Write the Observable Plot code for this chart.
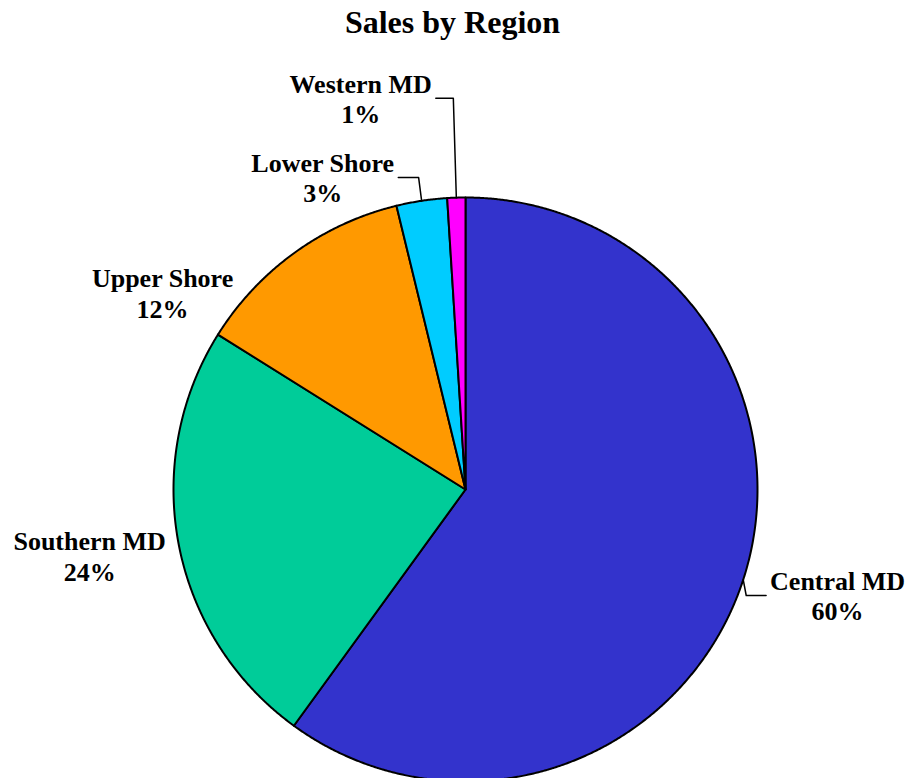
<!DOCTYPE html>
<html><head><meta charset="utf-8">
<script src="https://cdn.jsdelivr.net/npm/d3@7"></script>
<script src="https://cdn.jsdelivr.net/npm/@observablehq/plot@0.6"></script>
<style>
body{margin:0;background:#fff;overflow:hidden}
#title{height:50px;font:bold 32px "Liberation Serif",serif;text-align:center;line-height:44px;width:905px;color:#000}
</style></head><body>
<div id="title">Sales by Region</div>
<div id="chart"></div>
<script>
// data
const regions = ["Central MD", "Southern MD", "Upper Shore", "Lower Shore", "Western MD"];
const shares = [60.0, 23.9, 12.3, 2.8, 1.0];
const colors = ["#3333CC", "#00CC99", "#FF9900", "#00CCFF", "#FF00FF"];
// label layout (polar: degrees clockwise from 12 o'clock, radius in pie radii)
const labelAngle = [105.9, 260.0, 303.0, 335.4, 345.0];
const labelRadius = [1.325, 1.307, 1.237, 1.175, 1.387];
const hasLeader = [true, false, false, true, true];

const W = 911, H = 740, R = 292, cx = 465, cy = 439;
const rad = d => d * Math.PI / 180;
const polar = (deg, r) => [r * Math.sin(rad(deg)), r * Math.cos(rad(deg))];

const total = d3.sum(shares);
let cum = 0;
const slices = regions.map((r, i) => {
  const a0 = cum / total * 360; cum += shares[i]; const a1 = cum / total * 360;
  return {region: r, a0, a1, mid: (a0 + a1) / 2, pct: Math.round(shares[i] / total * 100)};
});

const slicePts = slices.flatMap(s => {
  const pts = [{region: s.region, x: 0, y: 0}];
  const n = Math.max(2, Math.ceil((s.a1 - s.a0) / 0.25));
  for (let k = 0; k <= n; k++) {
    const [x, y] = polar(s.a0 + (s.a1 - s.a0) * k / n, 1);
    pts.push({region: s.region, x, y});
  }
  return pts;
});

const fontSize = 26;
const ctx = document.createElement("canvas").getContext("2d");
ctx.font = `bold ${fontSize}px "Liberation Serif"`;

const labels = slices.map((s, i) => {
  const [x, y] = polar(labelAngle[i], labelRadius[i]);
  return {region: s.region, x, y, text: `${s.region}\n${s.pct}%`, halfW: ctx.measureText(s.region).width / 2 / R};
});

const leaderPts = slices.flatMap((s, i) => {
  if (!hasLeader[i]) return [];
  const [sx, sy] = polar(s.mid, 1);
  const L = labels[i];
  const dir = Math.sign(L.x - sx);
  return [
    {region: s.region, x: sx, y: sy},
    {region: s.region, x: sx + dir * 3 / R, y: L.y},
    {region: s.region, x: L.x - dir * (L.halfW + 4 / R), y: L.y}
  ];
});

const chart = Plot.plot({
  width: W, height: H, margin: 0,
  x: {domain: [-cx / R, (W - cx) / R], axis: null},
  y: {domain: [-(H - cy) / R, cy / R], axis: null},
  color: {domain: regions, range: colors},
  style: {background: "white", overflow: "visible"},
  marks: [
    Plot.line(slicePts, {x: "x", y: "y", z: "region", fill: "region", stroke: "black", strokeWidth: 2, curve: "linear-closed", strokeLinejoin: "round"}),
    Plot.line(leaderPts, {x: "x", y: "y", z: "region", stroke: "black", strokeWidth: 1.5}),
    Plot.text(labels, {x: "x", y: "y", text: "text", fontSize, fontWeight: "bold", fontFamily: "Liberation Serif", lineHeight: 1.17, textAnchor: "middle", lineAnchor: "middle", fill: "black"})
  ]
});
document.getElementById("chart").append(chart);
</script>
</body></html>
